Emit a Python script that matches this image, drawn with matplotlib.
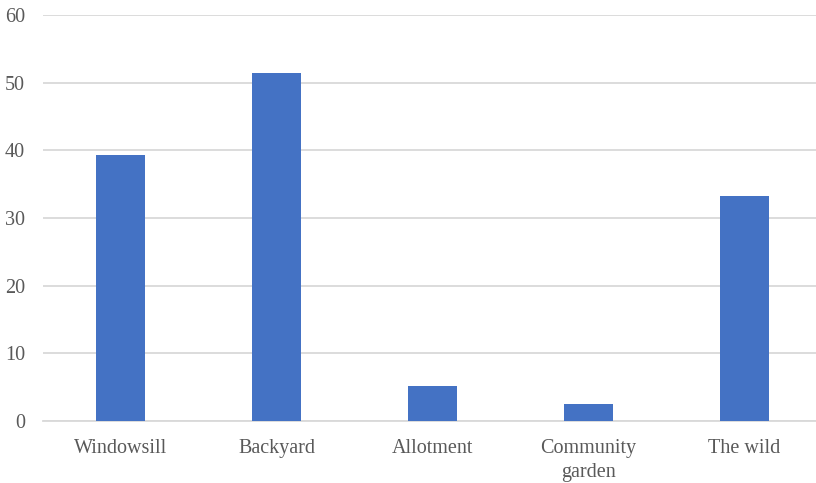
import matplotlib.pyplot as plt

# category labels and bar heights
categories = ['Windowsill', 'Backyard', 'Allotment', 'Community\ngarden', 'The wild']
values = [39.3, 51.4, 5.2, 2.5, 33.2]
y_ticks = [0, 10, 20, 30, 40, 50, 60]

plt.rcParams['font.family'] = ['Liberation Serif', 'DejaVu Serif']

fig = plt.figure(figsize=(8.16, 4.83), dpi=100)
# axes run slightly past the right edge so category slots match
ax = fig.add_axes([43 / 816, 0.128, 779 / 816, 0.841])

x = range(len(categories))
ax.bar(x, values, width=0.315, color='#4472C4', zorder=3)

ax.set_xlim(-0.5, len(categories) - 0.5)
ax.set_ylim(0, 60)
ax.set_yticks(y_ticks)
ax.set_xticks(list(x))
ax.set_xticklabels(categories, fontsize=14.5, color='#595959', linespacing=1.35)
ax.tick_params(axis='y', labelsize=14.5, labelcolor='#595959', length=0, pad=13)
ax.tick_params(axis='x', length=0, pad=13)

ax.grid(axis='y', color='#D9D9D9', linewidth=1.3, zorder=0)
for side in ['top', 'right', 'left']:
    ax.spines[side].set_visible(False)
ax.spines['bottom'].set_color('#D9D9D9')
ax.spines['bottom'].set_linewidth(1.3)

fig.savefig('out.png', dpi=100)
